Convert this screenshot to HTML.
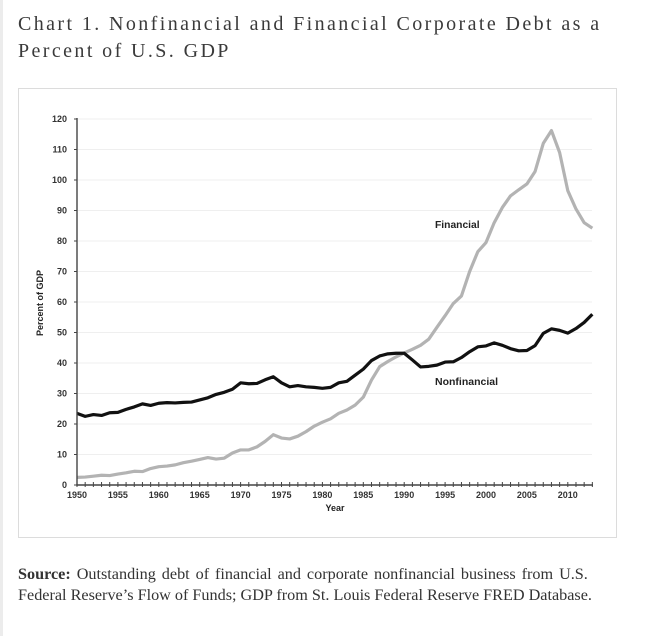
<!DOCTYPE html>
<html>
<head>
<meta charset="utf-8">
<style>
  html,body{margin:0;padding:0;background:#fff;}
  body{width:654px;height:636px;position:relative;overflow:hidden;}
  .strip{position:absolute;left:0;top:0;width:3px;height:636px;background:#ececec;}
  .title{position:absolute;left:18px;top:11px;width:640px;font-family:"Liberation Serif",serif;font-size:20px;line-height:27px;letter-spacing:2.4px;color:#3a3a3a;white-space:nowrap;}
  .box{position:absolute;left:18px;top:88px;width:599px;height:450px;border:1px solid #dcdcdc;box-sizing:border-box;background:#fff;}
  .src{position:absolute;left:18px;top:564px;width:636px;font-family:"Liberation Serif",serif;font-size:16.2px;line-height:21px;color:#333;white-space:nowrap;}
  .src b{color:#333;}
  .l1{word-spacing:1.9px;}
  svg{position:absolute;left:0;top:0;}
</style>
</head>
<body>
<div class="strip"></div>
<div class="title">Chart 1. Nonfinancial and Financial Corporate Debt as a<br>Percent of U.S. GDP</div>
<div class="box"></div>
<svg width="654" height="636" viewBox="0 0 654 636" xmlns="http://www.w3.org/2000/svg">
  <!-- gridlines -->
  <g stroke="#efefef" stroke-width="1">
    <line x1="78" y1="454.5" x2="592" y2="454.5"/>
    <line x1="78" y1="424" x2="592" y2="424"/>
    <line x1="78" y1="393.5" x2="592" y2="393.5"/>
    <line x1="78" y1="363" x2="592" y2="363"/>
    <line x1="78" y1="332.5" x2="592" y2="332.5"/>
    <line x1="78" y1="302" x2="592" y2="302"/>
    <line x1="78" y1="271.5" x2="592" y2="271.5"/>
    <line x1="78" y1="241" x2="592" y2="241"/>
    <line x1="78" y1="210.5" x2="592" y2="210.5"/>
    <line x1="78" y1="180" x2="592" y2="180"/>
    <line x1="78" y1="149.5" x2="592" y2="149.5"/>
    <line x1="78" y1="119" x2="592" y2="119"/>
  </g>
  <!-- series -->
  <g transform="translate(77,485) scale(8.18,-3.05)">
    <polyline fill="none" stroke="#b3b3b3" stroke-width="3.2" stroke-linejoin="round" vector-effect="non-scaling-stroke"
      points="0,2.5 1,2.6 2,2.9 3,3.2 4,3.1 5,3.6 6,4.0 7,4.5 8,4.4 9,5.4 10,6.0 11,6.2 12,6.6 13,7.3 14,7.8 15,8.4 16,9.0 17,8.5 18,8.8 19,10.5 20,11.5 21,11.5 22,12.5 23,14.3 24,16.5 25,15.4 26,15.1 27,16.0 28,17.5 29,19.3 30,20.6 31,21.7 32,23.5 33,24.6 34,26.2 35,28.8 36,34.4 37,38.8 38,40.5 39,42.0 40,43.3 41,44.5 42,45.8 43,47.8 44,51.7 45,55.5 46,59.5 47,62.0 48,70.0 49,76.5 50,79.5 51,86.0 52,91.0 53,94.8 54,96.8 55,98.7 56,102.8 57,112.0 58,116.2 59,109.0 60,96.5 61,90.5 62,86.0 63,84.2"/>
    <polyline fill="none" stroke="#111" stroke-width="3.2" stroke-linejoin="round" vector-effect="non-scaling-stroke"
      points="0,23.5 1,22.5 2,23.1 3,22.8 4,23.7 5,23.8 6,24.8 7,25.6 8,26.6 9,26.1 10,26.8 11,27.0 12,26.9 13,27.1 14,27.2 15,27.9 16,28.6 17,29.7 18,30.4 19,31.4 20,33.5 21,33.2 22,33.3 23,34.5 24,35.5 25,33.5 26,32.2 27,32.6 28,32.2 29,32.0 30,31.7 31,32.0 32,33.5 33,34.0 34,36.0 35,38.0 36,40.8 37,42.3 38,43.0 39,43.2 40,43.2 41,41.0 42,38.7 43,38.9 44,39.3 45,40.3 46,40.4 47,41.8 48,43.7 49,45.3 50,45.6 51,46.6 52,45.8 53,44.7 54,44.0 55,44.1 56,45.7 57,49.7 58,51.2 59,50.7 60,49.8 61,51.3 62,53.3 63,56.0"/>
  </g>
  <!-- axes -->
  <g stroke="#444" stroke-width="1.4" fill="none">
    <line x1="77" y1="118" x2="77" y2="485.7"/>
    <line x1="76.3" y1="485" x2="593" y2="485"/>
  </g>
  <!-- y ticks -->
  <g stroke="#444" stroke-width="1">
    <line x1="74" y1="485" x2="77" y2="485"/>
    <line x1="74" y1="454.5" x2="77" y2="454.5"/>
    <line x1="74" y1="424" x2="77" y2="424"/>
    <line x1="74" y1="393.5" x2="77" y2="393.5"/>
    <line x1="74" y1="363" x2="77" y2="363"/>
    <line x1="74" y1="332.5" x2="77" y2="332.5"/>
    <line x1="74" y1="302" x2="77" y2="302"/>
    <line x1="74" y1="271.5" x2="77" y2="271.5"/>
    <line x1="74" y1="241" x2="77" y2="241"/>
    <line x1="74" y1="210.5" x2="77" y2="210.5"/>
    <line x1="74" y1="180" x2="77" y2="180"/>
    <line x1="74" y1="149.5" x2="77" y2="149.5"/>
    <line x1="74" y1="119" x2="77" y2="119"/>
  </g>
  <!-- x ticks -->
  <g transform="translate(77,0) scale(8.18,1)">
    <path stroke="#444" stroke-width="1" vector-effect="non-scaling-stroke" fill="none"
      d="M0,482V487 M1,482V487 M2,482V487 M3,482V487 M4,482V487 M5,482V487 M6,482V487 M7,482V487 M8,482V487 M9,482V487 M10,482V487 M11,482V487 M12,482V487 M13,482V487 M14,482V487 M15,482V487 M16,482V487 M17,482V487 M18,482V487 M19,482V487 M20,482V487 M21,482V487 M22,482V487 M23,482V487 M24,482V487 M25,482V487 M26,482V487 M27,482V487 M28,482V487 M29,482V487 M30,482V487 M31,482V487 M32,482V487 M33,482V487 M34,482V487 M35,482V487 M36,482V487 M37,482V487 M38,482V487 M39,482V487 M40,482V487 M41,482V487 M42,482V487 M43,482V487 M44,482V487 M45,482V487 M46,482V487 M47,482V487 M48,482V487 M49,482V487 M50,482V487 M51,482V487 M52,482V487 M53,482V487 M54,482V487 M55,482V487 M56,482V487 M57,482V487 M58,482V487 M59,482V487 M60,482V487 M61,482V487 M62,482V487 M63,482V487"/>
  </g>
  <!-- y labels -->
  <g font-family="Liberation Sans, sans-serif" font-size="9" font-weight="bold" fill="#333" text-anchor="end">
    <text x="67" y="488">0</text>
    <text x="67" y="457.5">10</text>
    <text x="67" y="427">20</text>
    <text x="67" y="396.5">30</text>
    <text x="67" y="366">40</text>
    <text x="67" y="335.5">50</text>
    <text x="67" y="305">60</text>
    <text x="67" y="274.5">70</text>
    <text x="67" y="244">80</text>
    <text x="67" y="213.5">90</text>
    <text x="67" y="183">100</text>
    <text x="67" y="152.5">110</text>
    <text x="67" y="122">120</text>
  </g>
  <!-- x labels -->
  <g font-family="Liberation Sans, sans-serif" font-size="9" font-weight="bold" fill="#333" text-anchor="middle">
    <text x="77" y="498">1950</text>
    <text x="117.9" y="498">1955</text>
    <text x="158.8" y="498">1960</text>
    <text x="199.7" y="498">1965</text>
    <text x="240.6" y="498">1970</text>
    <text x="281.5" y="498">1975</text>
    <text x="322.4" y="498">1980</text>
    <text x="363.3" y="498">1985</text>
    <text x="404.2" y="498">1990</text>
    <text x="445.1" y="498">1995</text>
    <text x="486" y="498">2000</text>
    <text x="526.9" y="498">2005</text>
    <text x="567.8" y="498">2010</text>
  </g>
  <g font-family="Liberation Sans, sans-serif" font-weight="bold" fill="#222">
    <text x="335" y="511" font-size="9" text-anchor="middle">Year</text>
    <text transform="translate(43,303) rotate(-90)" font-size="9" text-anchor="middle">Percent of GDP</text>
    <text x="435" y="228" font-size="10.3">Financial</text>
    <text x="435" y="385" font-size="10.5">Nonfinancial</text>
  </g>
</svg>
<div class="src"><span class="l1"><b>Source:</b> Outstanding debt of financial and corporate nonfinancial business from U.S.</span><br>Federal Reserve’s Flow of Funds; GDP from St. Louis Federal Reserve FRED Database.</div>
</body>
</html>
